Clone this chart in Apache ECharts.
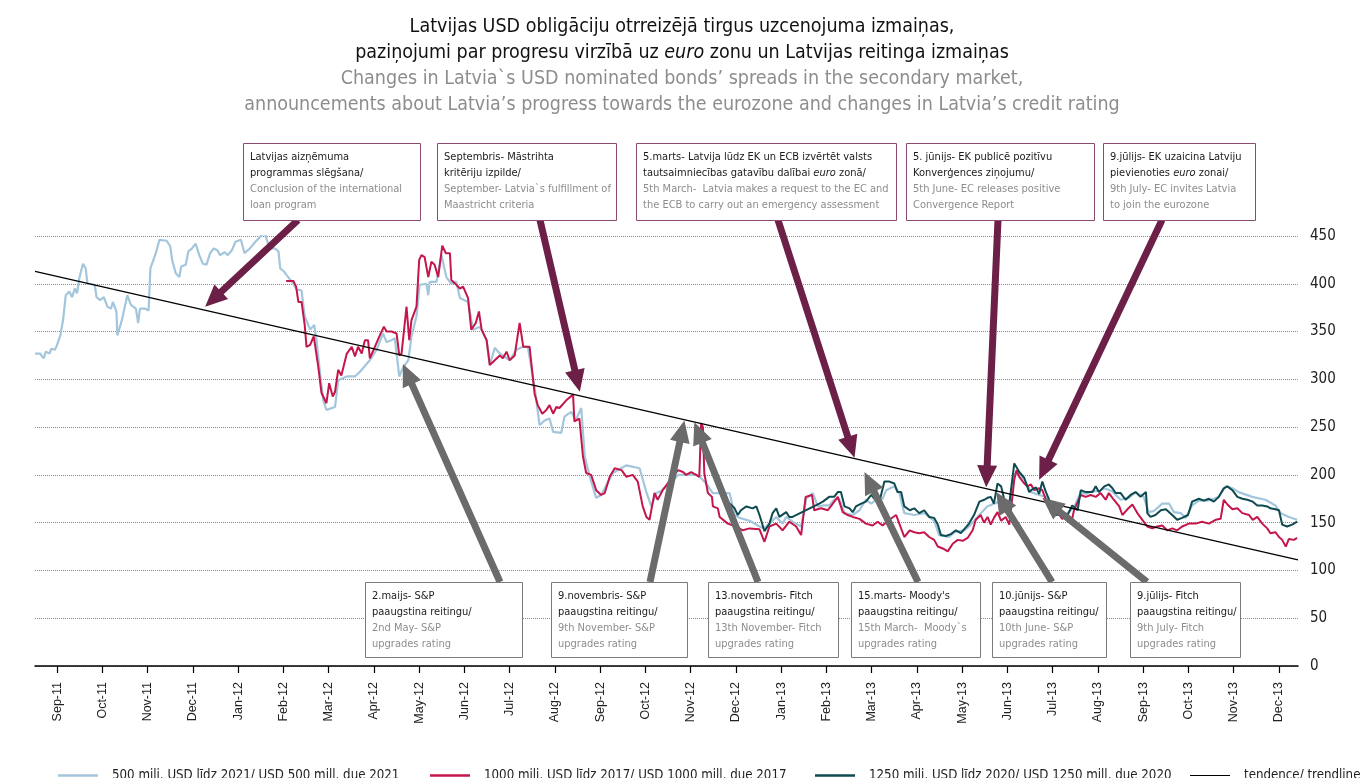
<!DOCTYPE html>
<html>
<head>
<meta charset="utf-8">
<title>Latvijas USD obligāciju uzcenojums</title>
<script src="https://cdn.jsdelivr.net/npm/echarts@6/dist/echarts.min.js"></script>
<style>
  html, body { margin: 0; padding: 0; background: #fff; }
  #chart { width: 1364px; height: 778px; }
</style>
</head>
<body>
<div id="chart"></div>
<script>
// x axis ticks, position 0 = Sep-11
var monthLabels = ["Sep-11", "Oct-11", "Nov-11", "Dec-11", "Jan-12", "Feb-12", "Mar-12", "Apr-12",
    "May-12", "Jun-12", "Jul-12", "Aug-12", "Sep-12", "Oct-12", "Nov-12", "Dec-12", "Jan-13",
    "Feb-13", "Mar-13", "Apr-13", "May-13", "Jun-13", "Jul-13", "Aug-13", "Sep-13", "Oct-13",
    "Nov-13", "Dec-13"];

// x = months since 1 Sep 2011, values = spread (bp)
var bond2021T = [-0.49, -0.38, -0.30, -0.25, -0.17, -0.13, -0.05, -0.01, 0.07, 0.13,
    0.19, 0.27, 0.33, 0.39, 0.44, 0.49, 0.57, 0.63, 0.67, 0.83,
    0.87, 0.95, 1.03, 1.11, 1.19, 1.23, 1.31, 1.33, 1.43, 1.55,
    1.63, 1.74, 1.79, 1.83, 1.94, 2.02, 2.06, 2.18, 2.26, 2.42,
    2.50, 2.54, 2.62, 2.70, 2.74, 2.84, 2.90, 2.98, 3.06, 3.14,
    3.22, 3.30, 3.38, 3.46, 3.54, 3.60, 3.70, 3.77, 3.86, 3.94,
    4.06, 4.14, 4.26, 4.38, 4.46, 4.53, 4.57, 4.61, 4.70, 4.81,
    4.89, 4.93, 5.01, 5.07, 5.22, 5.29, 5.40, 5.47, 5.59, 5.68,
    5.73, 5.81, 5.88, 5.95, 6.14, 6.21, 6.40, 6.58, 6.69, 6.91,
    7.06, 7.20, 7.28, 7.39, 7.46, 7.56, 7.64, 7.76, 7.83, 7.94,
    8.01, 8.16, 8.20, 8.23, 8.38, 8.49, 8.60, 8.71, 8.82, 8.90,
    9.08, 9.19, 9.34, 9.49, 9.56, 9.67, 9.78, 10.00, 10.15, 10.29,
    10.40, 10.55, 10.66, 10.77, 10.88, 10.96, 11.14, 11.21, 11.36, 11.46,
    11.58, 11.66, 11.77, 11.91, 12.02, 12.28, 12.58, 12.87, 13.02, 13.13,
    13.24, 13.35, 13.46, 13.58, 13.72, 13.90, 14.12, 14.20, 14.34, 14.49,
    14.64, 14.86, 14.97, 15.08, 15.30, 15.52, 15.63, 15.74, 15.89, 16.03,
    16.11, 16.25, 16.44, 16.55, 16.70, 16.81, 16.92, 17.06, 17.17, 17.28,
    17.40, 17.58, 17.73, 17.87, 17.99, 18.10, 18.24, 18.32, 18.50, 18.61,
    18.72, 18.94, 19.16, 19.38, 19.49, 19.71, 19.82, 20.04, 20.15, 20.38,
    20.55, 20.82, 20.93, 21.04, 21.15, 21.26, 21.37, 21.52, 21.70, 21.85,
    21.96, 22.07, 22.21, 22.32, 22.47, 22.62, 22.74, 22.87, 23.02, 23.14,
    23.31, 23.50, 23.68, 23.83, 24.01, 24.12, 24.23, 24.42, 24.57, 24.68,
    24.83, 24.94, 25.08, 25.23, 25.41, 25.56, 25.67, 25.82, 25.97, 26.11,
    26.41, 26.70, 26.92, 27.03, 27.22, 27.40];
var bond2021V = [327, 327, 322, 329, 327, 332, 331, 335, 346, 362,
    388, 392, 386, 395, 390, 406, 421, 416, 400, 399,
    386, 383, 386, 376, 374, 381, 371, 346, 362, 388,
    378, 374, 359, 374, 374, 372, 416, 432, 446, 445,
    439, 425, 411, 407, 418, 420, 434, 437, 442, 430,
    421, 420, 432, 437, 435, 430, 433, 430, 435, 444,
    446, 432, 437, 444, 448, 451, 457, 449, 437, 437,
    434, 416, 413, 409, 400, 394, 393, 366, 352, 357,
    341, 306, 278, 268, 271, 299, 303, 303, 308, 320,
    331, 348, 339, 341, 343, 303, 312, 320, 345, 366,
    399, 400, 388, 402, 402, 430, 407, 400, 402, 385,
    381, 352, 355, 341, 315, 333, 327, 320, 331, 334,
    334, 292, 252, 257, 259, 245, 244, 261, 266, 257,
    270, 219, 198, 176, 179, 202, 210, 207, 182, 167,
    181, 183, 188, 193, 200, 200, 200, 198, 191, 181,
    181, 181, 158, 155, 152, 146, 144, 149, 156, 149,
    156, 151, 146, 175, 181, 167, 168, 168, 174, 175,
    160, 158, 163, 174, 170, 174, 175, 184, 188, 181,
    160, 158, 160, 152, 137, 135, 140, 142, 146, 158,
    167, 172, 165, 170, 201, 200, 195, 182, 179, 177,
    163, 160, 158, 160, 166, 182, 180, 183, 183, 186,
    183, 174, 176, 182, 177, 161, 162, 170, 170, 161,
    160, 155, 168, 173, 173, 175, 177, 188, 186, 182,
    177, 174, 168, 160, 156, 153];

var bond2017T = [5.06, 5.22, 5.28, 5.33, 5.40, 5.47, 5.51, 5.59, 5.67, 5.77,
    5.84, 5.95, 6.01, 6.09, 6.14, 6.21, 6.28, 6.40, 6.51, 6.58,
    6.65, 6.73, 6.80, 6.87, 6.91, 7.02, 7.13, 7.22, 7.28, 7.39,
    7.50, 7.56, 7.61, 7.72, 7.78, 7.83, 7.94, 8.00, 8.05, 8.12,
    8.20, 8.27, 8.34, 8.42, 8.51, 8.59, 8.68, 8.71, 8.82, 8.90,
    8.97, 9.08, 9.15, 9.25, 9.32, 9.38, 9.49, 9.56, 9.67, 9.78,
    9.85, 9.93, 10.00, 10.11, 10.22, 10.30, 10.44, 10.55, 10.62, 10.72,
    10.81, 10.88, 10.96, 11.03, 11.10, 11.25, 11.40, 11.43, 11.54, 11.62,
    11.69, 11.80, 11.91, 12.02, 12.10, 12.21, 12.32, 12.47, 12.58, 12.72,
    12.83, 12.94, 13.02, 13.09, 13.20, 13.27, 13.38, 13.46, 13.60, 13.72,
    13.83, 13.90, 14.01, 14.12, 14.19, 14.23, 14.27, 14.30, 14.38, 14.47,
    14.49, 14.60, 14.64, 14.82, 15.00, 15.15, 15.30, 15.52, 15.63, 15.74,
    15.89, 16.03, 16.18, 16.33, 16.44, 16.54, 16.68, 16.73, 16.88, 17.03,
    17.14, 17.25, 17.36, 17.47, 17.58, 17.73, 17.87, 18.02, 18.13, 18.24,
    18.39, 18.54, 18.61, 18.72, 18.84, 18.94, 19.05, 19.16, 19.27, 19.38,
    19.46, 19.57, 19.68, 19.79, 19.90, 20.01, 20.12, 20.23, 20.30, 20.41,
    20.48, 20.56, 20.63, 20.70, 20.78, 20.86, 20.96, 21.04, 21.15, 21.20,
    21.26, 21.37, 21.44, 21.52, 21.59, 21.70, 21.77, 21.85, 21.92, 22.00,
    22.10, 22.21, 22.33, 22.43, 22.47, 22.62, 22.73, 22.84, 22.95, 23.06,
    23.17, 23.24, 23.35, 23.47, 23.54, 23.65, 23.76, 23.87, 23.98, 24.09,
    24.20, 24.31, 24.42, 24.53, 24.64, 24.75, 24.86, 25.01, 25.16, 25.30,
    25.45, 25.60, 25.71, 25.78, 25.86, 25.97, 26.08, 26.19, 26.34, 26.42,
    26.52, 26.63, 26.74, 26.81, 26.92, 27.00, 27.07, 27.15, 27.22, 27.33,
    27.40];
var bond2017V = [403, 403, 397, 381, 381, 357, 334, 336, 345, 313,
    286, 275, 296, 282, 287, 310, 304, 327, 334, 324,
    334, 327, 341, 341, 322, 334, 346, 355, 350, 350,
    348, 325, 327, 376, 341, 362, 376, 425, 430, 428,
    407, 423, 420, 407, 440, 432, 432, 404, 399, 395,
    397, 385, 352, 359, 371, 352, 341, 315, 320, 325,
    322, 329, 320, 325, 359, 334, 334, 285, 273, 264,
    268, 273, 264, 271, 270, 278, 284, 256, 259, 219,
    202, 200, 184, 179, 181, 198, 207, 205, 198, 200,
    193, 167, 156, 153, 181, 174, 184, 189, 198, 205,
    203, 200, 203, 200, 198, 254, 250, 202, 181, 177,
    167, 165, 156, 149, 146, 142, 144, 143, 130, 146,
    149, 142, 151, 146, 137, 177, 179, 163, 165, 163,
    170, 177, 161, 158, 156, 154, 149, 147, 151, 147,
    153, 158, 149, 135, 142, 140, 139, 140, 135, 132,
    125, 123, 120, 128, 132, 131, 134, 142, 153, 158,
    150, 156, 148, 155, 161, 152, 156, 148, 195, 205,
    198, 191, 188, 190, 184, 186, 184, 174, 167, 158,
    161, 154, 158, 154, 163, 179, 177, 179, 177, 181,
    174, 181, 174, 167, 158, 164, 169, 160, 153, 146,
    144, 146, 147, 142, 144, 142, 146, 149, 149, 151,
    149, 153, 154, 174, 169, 164, 165, 160, 158, 153,
    156, 149, 144, 139, 140, 135, 132, 125, 133, 132,
    134];

var bond2020T = [14.86, 14.97, 15.04, 15.11, 15.23, 15.37, 15.45, 15.52, 15.63, 15.74,
    15.81, 15.89, 15.96, 16.11, 16.18, 16.25, 16.84, 16.92, 17.06, 17.17,
    17.25, 17.32, 17.40, 17.51, 17.58, 17.65, 17.77, 17.87, 17.99, 18.06,
    18.17, 18.28, 18.39, 18.50, 18.57, 18.65, 18.72, 18.84, 18.94, 19.05,
    19.16, 19.27, 19.38, 19.46, 19.53, 19.64, 19.75, 19.86, 19.97, 20.08,
    20.15, 20.26, 20.38, 20.49, 20.56, 20.63, 20.70, 20.78, 20.86, 20.96,
    21.04, 21.15, 21.20, 21.26, 21.37, 21.48, 21.55, 21.63, 21.70, 21.77,
    21.85, 21.92, 21.96, 22.07, 22.21, 22.33, 22.43, 22.55, 22.62, 22.73,
    22.88, 22.95, 23.02, 23.14, 23.24, 23.32, 23.39, 23.50, 23.61, 23.72,
    23.83, 23.94, 24.06, 24.09, 24.16, 24.27, 24.39, 24.50, 24.64, 24.75,
    24.86, 24.99, 25.08, 25.23, 25.34, 25.45, 25.56, 25.67, 25.78, 25.86,
    25.97, 26.08, 26.19, 26.30, 26.42, 26.52, 26.63, 26.74, 26.81, 26.92,
    27.00, 27.07, 27.18, 27.29, 27.40];
var bond2020V = [170, 165, 158, 163, 167, 165, 167, 158, 141, 149,
    160, 165, 156, 161, 156, 156, 170, 172, 177, 177,
    182, 182, 167, 165, 161, 167, 170, 172, 179, 175,
    172, 193, 193, 191, 182, 182, 167, 163, 165, 160,
    163, 156, 155, 148, 137, 136, 138, 142, 139, 145,
    149, 158, 172, 174, 176, 177, 170, 191, 188, 168,
    170, 212, 208, 203, 197, 182, 185, 187, 180, 193,
    182, 174, 160, 158, 159, 158, 168, 163, 184, 182,
    182, 188, 182, 188, 190, 186, 181, 181, 174, 179,
    182, 177, 182, 160, 156, 158, 163, 164, 158, 153,
    155, 158, 172, 175, 173, 175, 172, 177, 186, 188,
    184, 177, 175, 174, 172, 168, 168, 167, 165, 164,
    163, 148, 146, 148, 151];

var trendT = [-0.49, 27.42];
var trendV = [413, 111];

var seriesNames = [
    "500 milj. USD līdz 2021/ USD 500 mill. due 2021",
    "1000 milj. USD līdz 2017/ USD 1000 mill. due 2017",
    "1250 milj. USD līdz 2020/ USD 1250 mill. due 2020",
    "tendence/ trendline"
];

// notes above the chart (euro zone steps), arrow tip in data coords
var euroNotes = [
    { lv: ["Latvijas aizņēmuma", "programmas slēgšana/"], en: ["Conclusion of the international", "loan program"], at: [3.27, 376] },
    { lv: ["Septembris- Māstrihta", "kritēriju izpilde/"], en: ["September- Latvia`s fulfillment of", "Maastricht criteria"], at: [11.55, 287] },
    { lv: ["5.marts- Latvija lūdz EK un ECB izvērtēt valsts", "tautsaimniecības gatavību dalībai *euro* zonā/"], en: ["5th March-  Latvia makes a request to the EC and", "the ECB to carry out an emergency assessment"], at: [17.62, 218] },
    { lv: ["5. jūnijs- EK publicē pozitīvu", "Konverģences ziņojumu/"], en: ["5th June- EC releases positive", "Convergence Report"], at: [20.53, 187] },
    { lv: ["9.jūlijs- EK uzaicina Latviju", "pievienoties *euro* zonai/"], en: ["9th July- EC invites Latvia", "to join the eurozone"], at: [21.70, 195] }
];
// notes below (rating upgrades)
var ratingNotes = [
    { lv: ["2.maijs- S&P", "paaugstina reitingu/"], en: ["2nd May- S&P", "upgrades rating"], at: [7.64, 316] },
    { lv: ["9.novembris- S&P", "paaugstina reitingu/"], en: ["9th November- S&P", "upgrades rating"], at: [13.86, 257] },
    { lv: ["13.novembris- Fitch", "paaugstina reitingu/"], en: ["13th November- Fitch", "upgrades rating"], at: [14.08, 255] },
    { lv: ["15.marts- Moody's", "paaugstina reitingu/"], en: ["15th March-  Moody`s", "upgrades rating"], at: [17.84, 203] },
    { lv: ["10.jūnijs- S&P", "paaugstina reitingu/"], en: ["10th June- S&P", "upgrades rating"], at: [20.75, 182] },
    { lv: ["9.jūlijs- Fitch", "paaugstina reitingu/"], en: ["9th July- Fitch", "upgrades rating"], at: [21.77, 176] }
];

// box layout in px: [x, y, w, h], arrow start [x, y]
var euroBoxes = [[243, 143, 177, 77], [437, 143, 179, 77], [636, 143, 260, 77], [906, 143, 188, 77], [1103, 143, 152, 77]];
var euroTails = [[298, 220], [540, 220], [778, 220], [998, 220], [1162, 220]];
var ratingBoxes = [[365, 582, 157, 75], [551, 582, 136, 75], [708, 582, 130, 75], [851, 582, 129, 75], [992, 582, 114, 75], [1130, 582, 110, 75]];
var ratingTails = [[500, 582], [650, 582], [758, 582], [918, 582], [1052, 582], [1147, 582]];

var NARROW = "'Liberation Sans Narrow', 'Arial Narrow', 'DejaVu Sans Condensed', sans-serif";
var colors = ["#a3c6dc", "#c4164a", "#0e4a50", "#000000"];

function pairs(t, v) {
    return t.map(function(x, i) { return [x, v[i]]; });
}

var tickValues = monthLabels.map(function(l, i) { return i; });

var chart = echarts.init(document.getElementById("chart"));

var legendLeft = [53, 425, 810, 1185];

var option = {
    animation: false,
    backgroundColor: "#fff",
    title: {
        left: "center",
        top: 9,
        text: "{k|Latvijas USD obligāciju otrreizējā tirgus uzcenojuma izmaiņas,}\n" +
            "{k|paziņojumi par progresu virzībā uz }{ki|euro}{k| zonu un Latvijas reitinga izmaiņas}\n" +
            "{g|Changes in Latvia`s USD nominated bonds’ spreads in the secondary market,}\n" +
            "{g|announcements about Latvia’s progress towards the eurozone and changes in Latvia’s credit rating}",
        textStyle: {
            fontWeight: "normal",
            rich: {
                k: { fontFamily: NARROW, fontSize: 19.5, fontWeight: "normal", color: "#111", lineHeight: 26 },
                ki: { fontFamily: NARROW, fontSize: 19.5, fontWeight: "normal", color: "#111", lineHeight: 26, fontStyle: "italic" },
                g: { fontFamily: NARROW, fontSize: 19.5, fontWeight: "normal", color: "#8d8d8d", lineHeight: 26 }
            }
        }
    },
    legend: seriesNames.map(function(n, i) {
        return {
            data: [n],
            left: legendLeft[i],
            top: 764,
            icon: "rect",
            itemWidth: 40,
            itemHeight: i === 3 ? 1.2 : 2.5,
            textStyle: { fontFamily: NARROW, fontSize: 13.2, color: "#222", padding: [0, 0, 0, 9] }
        };
    }),
    grid: { left: 35, right: 66, top: 236, bottom: 112 },
    xAxis: {
        type: "value",
        min: -0.49,
        max: 27.42,
        splitLine: { show: false },
        axisLine: { lineStyle: { color: "#000", width: 1.5 } },
        axisTick: { customValues: tickValues, length: 7, lineStyle: { color: "#000", width: 1.2 } },
        axisLabel: {
            customValues: tickValues,
            rotate: 90,
            margin: 16,
            fontFamily: "'Liberation Sans', Arial, sans-serif",
            fontSize: 12.5,
            color: "#222",
            formatter: function(v) { return monthLabels[Math.round(v)]; }
        }
    },
    yAxis: {
        type: "value",
        position: "right",
        min: 0,
        max: 450,
        interval: 50,
        axisLine: { show: false },
        axisTick: { show: false },
        axisLabel: { margin: 12, fontFamily: NARROW, fontSize: 15, color: "#222" },
        splitLine: { lineStyle: { type: "dotted", color: "#8a8a8a", width: 1 } }
    },
    series: [
        { name: seriesNames[0], type: "line", symbol: "none", data: pairs(bond2021T, bond2021V),
          lineStyle: { color: colors[0], width: 2.2 }, itemStyle: { color: colors[0] }, z: 2 },
        { name: seriesNames[1], type: "line", symbol: "none", data: pairs(bond2017T, bond2017V),
          lineStyle: { color: colors[1], width: 2 }, itemStyle: { color: colors[1] }, z: 3 },
        { name: seriesNames[2], type: "line", symbol: "none", data: pairs(bond2020T, bond2020V),
          lineStyle: { color: colors[2], width: 2 }, itemStyle: { color: colors[2] }, z: 4 },
        { name: seriesNames[3], type: "line", symbol: "none", data: pairs(trendT, trendV),
          lineStyle: { color: colors[3], width: 1.3 }, itemStyle: { color: colors[3] }, z: 5 }
    ]
};
chart.setOption(option);

// arrow as a polygon from (x0,y0) to tip (x1,y1)
function arrowPoints(x0, y0, x1, y1, shaft, headLen, headW) {
    var dx = x1 - x0, dy = y1 - y0;
    var L = Math.sqrt(dx * dx + dy * dy);
    var ux = dx / L, uy = dy / L;
    var px = -uy, py = ux;
    var bx = x1 - ux * headLen, by = y1 - uy * headLen;
    return [
        [x0 + px * shaft / 2, y0 + py * shaft / 2],
        [bx + px * shaft / 2, by + py * shaft / 2],
        [bx + px * headW / 2, by + py * headW / 2],
        [x1, y1],
        [bx - px * headW / 2, by - py * headW / 2],
        [bx - px * shaft / 2, by - py * shaft / 2],
        [x0 - px * shaft / 2, y0 - py * shaft / 2]
    ];
}

function richLine(s, cls) {
    var parts = s.split("*");
    return parts.map(function(p, i) {
        if (!p) return "";
        return "{" + (i % 2 ? cls + "i" : cls) + "|" + p + "}";
    }).join("");
}

var noteRich = {
    k: { fill: "#1a1a1a", fontSize: 11, fontFamily: NARROW, lineHeight: 16 },
    ki: { fill: "#1a1a1a", fontSize: 11, fontFamily: NARROW, lineHeight: 16, fontStyle: "italic" },
    g: { fill: "#8d8d8d", fontSize: 11, fontFamily: NARROW, lineHeight: 16 },
    gi: { fill: "#8d8d8d", fontSize: 11, fontFamily: NARROW, lineHeight: 16, fontStyle: "italic" }
};

var graphics = [];
function addNotes(notes, boxes, tails, border, arrowColor) {
    notes.forEach(function(n, i) {
        var b = boxes[i];
        var tip = chart.convertToPixel({ gridIndex: 0 }, n.at);
        var t = tails[i];
        graphics.push({
            type: "polygon", z: 60,
            shape: { points: arrowPoints(t[0], t[1], tip[0], tip[1], 7, 22, 20) },
            style: { fill: arrowColor }
        });
        graphics.push({
            type: "rect", z: 61,
            shape: { x: b[0] + 0.5, y: b[1] + 0.5, width: b[2], height: b[3] },
            style: { fill: "#fff", stroke: border, lineWidth: 1 }
        });
        var txt = n.lv.map(function(s) { return richLine(s, "k"); })
            .concat(n.en.map(function(s) { return richLine(s, "g"); })).join("\n");
        graphics.push({
            type: "text", z: 62,
            style: { x: b[0] + 7, y: b[1] + 6, text: txt, rich: noteRich, align: "left", verticalAlign: "top" }
        });
    });
}
addNotes(euroNotes, euroBoxes, euroTails, "#8b4a70", "#6c1f47");
addNotes(ratingNotes, ratingBoxes, ratingTails, "#7a7a7a", "#6b6b6b");

chart.setOption({ graphic: graphics });
</script>
</body>
</html>
